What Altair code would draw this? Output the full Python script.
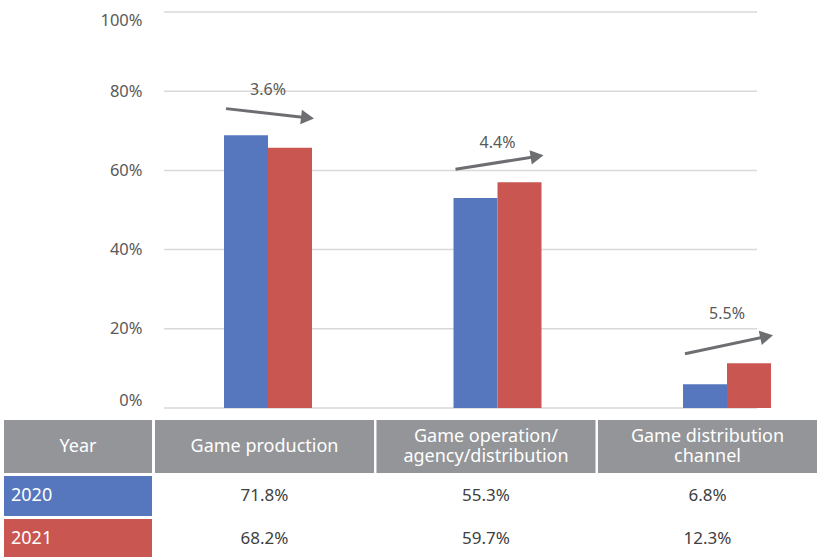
import math
import altair as alt
import pandas as pd

# ---------------- data ----------------
categories = ["Game production", "Game operation/agency/distribution", "Game distribution channel"]
header_line1 = ["Game production", "Game operation/", "Game distribution"]
header_line2 = ["", "agency/distribution", "channel"]
years = ["2020", "2021"]
bar_2020 = [68.9, 53.0, 6.0]        # bar heights as drawn (%)
bar_2021 = [65.7, 57.0, 11.3]
table_2020 = ["71.8%", "55.3%", "6.8%"]
table_2021 = ["68.2%", "59.7%", "12.3%"]
change_labels = ["3.6%", "4.4%", "5.5%"]
change_label_y = [80.2, 66.8, 23.8]
arrow_start = [75.6, 60.3, 13.7]
arrow_end = [73.1, 63.8, 18.4]
y_ticks = [0, 20, 40, 60, 80, 100]

# ---------------- style ----------------
FONT = "Noto Sans"
BLUE = "#5677be"
RED = "#ca5651"
GRAY_HEAD = "#939598"
ARROW = "#6d6e71"
GRID = "#d9d9d9"
W, H = 593, 396
PX_PER_PCT = H / 100.0
ARROW_X0, ARROW_X1 = -42, 46
ARROW_PATH = "M0,0L-1,-0.56L-1,0.56Z"
LINE_H = 20

bars = pd.DataFrame(
    [{"category": c, "year": "2020", "value": v} for c, v in zip(categories, bar_2020)]
    + [{"category": c, "year": "2021", "value": v} for c, v in zip(categories, bar_2021)]
)
arrows = pd.DataFrame({
    "category": categories,
    "start": arrow_start,
    "end": arrow_end,
    "label": change_labels,
    "label_y": change_label_y,
})
arrows["angle"] = [
    (math.degrees(math.atan2(-(e - s) * PX_PER_PCT, ARROW_X1 - ARROW_X0)) + 360) % 360
    for s, e in zip(arrow_start, arrow_end)
]
# end of the shaft sits just behind the arrow head
arrows["shaft_end"] = [
    e - (e - s) * 7 / (ARROW_X1 - ARROW_X0) for s, e in zip(arrow_start, arrow_end)
]
header = pd.DataFrame({"category": categories, "line1": header_line1, "line2": header_line2})
body = pd.DataFrame(
    [{"category": c, "year": "2020", "text": t} for c, t in zip(categories, table_2020)]
    + [{"category": c, "year": "2021", "text": t} for c, t in zip(categories, table_2021)]
)
year_cells = pd.DataFrame({"year": years})
year_head = pd.DataFrame({"label": ["Year"]})
ticks = pd.DataFrame({"v": y_ticks})

color_scale = alt.Scale(domain=years, range=[BLUE, RED])

# ---------------- bar chart group ----------------
x_bar = alt.Scale(domain=categories, range=[60, 607], paddingInner=0.6166, paddingOuter=0)
y_bar = alt.Scale(domain=[0, 100], nice=False)

y_axis = alt.Axis(
    values=y_ticks, labelExpr="datum.value + '%'", grid=False,
    domain=False, ticks=False, tickSize=0, labelPadding=22,
    labelFlush=True, labelFontSize=16.5, labelColor="#595959", labelFont=FONT, title=None,
)

grid = alt.Chart(ticks).mark_rule(color=GRID, strokeWidth=1.5).encode(
    y=alt.Y("v:Q", scale=y_bar, axis=y_axis),
    x=alt.value(0), x2=alt.value(W),
)

bar_layer = alt.Chart(bars).mark_bar().encode(
    x=alt.X("category:N", scale=x_bar, axis=None, sort=categories),
    xOffset=alt.XOffset("year:N", scale=alt.Scale(domain=years, paddingInner=0, paddingOuter=0)),
    y=alt.Y("value:Q", scale=y_bar),
    color=alt.Color("year:N", scale=color_scale, legend=None),
)

shaft = alt.Chart(arrows).mark_rule(
    color=ARROW, strokeWidth=3, xOffset=ARROW_X0, x2Offset=ARROW_X1 - 7
).encode(
    x=alt.X("category:N", scale=x_bar, axis=None, sort=categories),
    x2="category:N",
    y=alt.Y("start:Q", scale=y_bar),
    y2="shaft_end:Q",
)

head = alt.Chart(arrows).mark_point(
    shape=ARROW_PATH, filled=True, size=676, color=ARROW, opacity=1, strokeWidth=0,
    xOffset=ARROW_X1,
).encode(
    x=alt.X("category:N", scale=x_bar, axis=None, sort=categories),
    y=alt.Y("end:Q", scale=y_bar),
    angle=alt.Angle("angle:Q", scale=None),
)

change_text = alt.Chart(arrows).mark_text(
    font=FONT, fontSize=16, color="#595959"
).encode(
    x=alt.X("category:N", scale=x_bar, axis=None, sort=categories),
    y=alt.Y("label_y:Q", scale=y_bar),
    text="label:N",
)

chart_group = alt.layer(grid, bar_layer, shaft, head, change_text)

# ---------------- table group ----------------
x_tab = alt.Scale(domain=categories, range=[-9, 653], paddingInner=0.011, paddingOuter=0)
y_tab = alt.Scale(domain=years, range=[464, 547], paddingInner=0.07, paddingOuter=0)
x_head = alt.X("category:N", scale=x_tab, axis=None, sort=categories)

head_rect = alt.Chart(header).mark_rect(color=GRAY_HEAD).encode(
    x=x_head, y=alt.value(408), y2=alt.value(461),
)
head_text_single = alt.Chart(header).transform_filter("datum.line2 == ''").mark_text(
    font=FONT, fontSize=18, color="white", baseline="middle"
).encode(x=x_head, y=alt.value(435), text="line1:N")
head_text_top = alt.Chart(header).transform_filter("datum.line2 != ''").mark_text(
    font=FONT, fontSize=18, color="white", baseline="middle"
).encode(x=x_head, y=alt.value(435 - LINE_H / 2), text="line1:N")
head_text_bottom = alt.Chart(header).transform_filter("datum.line2 != ''").mark_text(
    font=FONT, fontSize=18, color="white", baseline="middle"
).encode(x=x_head, y=alt.value(435 + LINE_H / 2), text="line2:N")

year_head_rect = alt.Chart(year_head).mark_rect(color=GRAY_HEAD).encode(
    x=alt.value(-160), x2=alt.value(-12), y=alt.value(408), y2=alt.value(461),
)
year_head_text = alt.Chart(year_head).mark_text(
    font=FONT, fontSize=18, color="white"
).encode(x=alt.value(-86), y=alt.value(435), text="label:N")

year_rect = alt.Chart(year_cells).mark_rect().encode(
    x=alt.value(-160), x2=alt.value(-12),
    y=alt.Y("year:N", scale=y_tab, axis=None),
    color=alt.Color("year:N", scale=color_scale, legend=None),
)
year_text = alt.Chart(year_cells).mark_text(
    font=FONT, fontSize=18, color="white", align="left"
).encode(
    x=alt.value(-153),
    y=alt.Y("year:N", scale=y_tab, axis=None),
    text="year:N",
)
body_text = alt.Chart(body).mark_text(
    font=FONT, fontSize=17, color="#404040"
).encode(
    x=x_head,
    y=alt.Y("year:N", scale=y_tab, axis=None),
    text="text:N",
)

table_group = alt.layer(head_rect, year_head_rect, head_text_single, head_text_top,
                        head_text_bottom, year_head_text, year_rect, year_text, body_text)

chart = alt.layer(chart_group, table_group).resolve_scale(
    x="independent", y="independent"
).properties(
    width=W, height=H,
    padding={"left": 164, "top": 12, "right": 60, "bottom": 149},
    autosize=alt.AutoSizeParams(type="none"),
    background="white",
).configure(font=FONT).configure_view(stroke=None)

chart.save("out.html", embed_options={"renderer": "svg", "actions": False})
